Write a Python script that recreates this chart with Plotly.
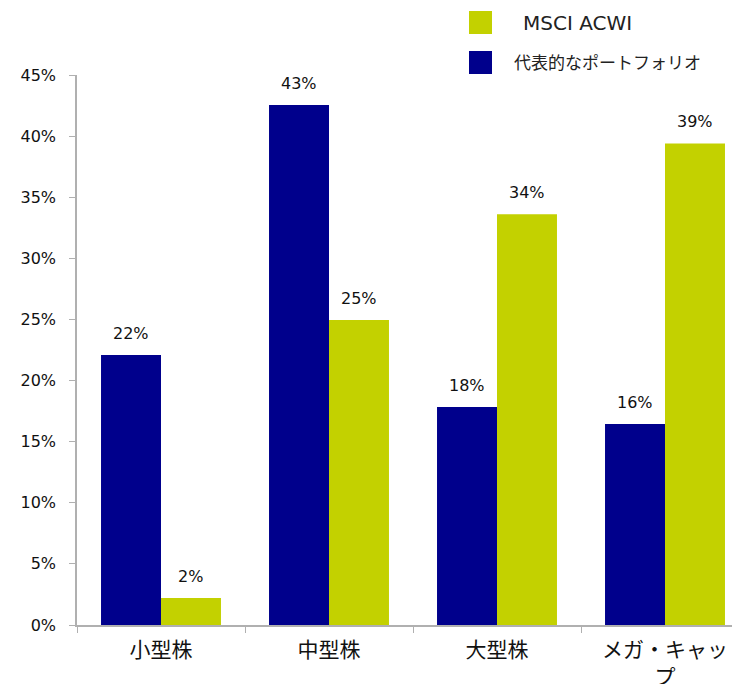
import plotly.graph_objects as go

categories = ["小型株", "中型株", "大型株", "メガ・キャッ<br>プ"]
portfolio = [22.1, 42.55, 17.84, 16.45]
acwi = [2.2, 24.96, 33.6, 39.4]
series_names = ["代表的なポートフォリオ", "MSCI ACWI"]
yticks = [0, 5, 10, 15, 20, 25, 30, 35, 40, 45]

NAVY = "#00008C"
GREEN = "#C3D100"
FONT = "DejaVu Sans, Noto Sans CJK JP, sans-serif"

OFF = 8  # page body margin
W, H = 740 - OFF, 684 - OFF
ML, MR, MT, MB = 77 - OFF, 0, 75 - OFF, 59
PW, PH = W - ML - MR, H - MT - MB

def px_x(x):
    return (x - OFF - ML) / PW

def px_y(y):
    return (H - MB - (y - OFF)) / PH

fig = go.Figure()
fig.add_trace(go.Bar(x=categories, y=portfolio, name=series_names[0],
                     marker=dict(color=NAVY, line=dict(width=0)), showlegend=False))
fig.add_trace(go.Bar(x=categories, y=acwi, name=series_names[1],
                     marker=dict(color=GREEN, line=dict(width=0)), showlegend=False))

# data labels
for i, c in enumerate(categories):
    for vals, off in ((portfolio, -0.178), (acwi, 0.178)):
        fig.add_annotation(x=i + off, y=vals[i], xref="x", yref="y",
                           text=f"{vals[i]:.0f}%", showarrow=False,
                           yanchor="bottom", yshift=10,
                           font=dict(family=FONT, size=16, color="#111"))

# manual legend
legend_items = [(series_names[1], GREEN, 11, 521, 20), (series_names[0], NAVY, 51, 512, 17)]
for name, col, ytop, xt, fs in legend_items:
    fig.add_shape(type="rect", xref="paper", yref="paper",
                  x0=px_x(469), x1=px_x(492), y0=px_y(ytop + 23), y1=px_y(ytop),
                  fillcolor=col, line=dict(width=0))
    fig.add_annotation(xref="paper", yref="paper", x=px_x(xt), y=px_y(ytop + 11.5),
                       text=name, showarrow=False, xanchor="left", yanchor="middle",
                       font=dict(family=FONT, size=fs, color="#222"))

fig.update_layout(
    width=W, height=H,
    margin=dict(l=ML, r=MR, t=MT, b=MB, pad=0, autoexpand=False),
    plot_bgcolor="white", paper_bgcolor="white",
    barmode="group", bargap=0.286, bargroupgap=0,
    font=dict(family=FONT, size=16, color="#111"),
)
fig.update_xaxes(type="category", range=[-0.5, -0.5 + PW / 168],
                 showline=True, linecolor="#B0B0B0", linewidth=1.5,
                 ticks="outside", tickson="boundaries", ticklen=6, tickcolor="#B0B0B0",
                 ticklabelstandoff=5, automargin=False,
                 tickfont=dict(family=FONT, size=21, color="#111"), showgrid=False)
fig.update_yaxes(range=[0, 45], tickvals=yticks, ticktext=[f"{v}%" for v in yticks],
                 showline=True, linecolor="#B0B0B0", linewidth=1.5,
                 ticks="outside", ticklen=6, tickcolor="#B0B0B0",
                 ticklabelstandoff=10, showgrid=False, zeroline=False, automargin=False,
                 tickfont=dict(family=FONT, size=16, color="#111"))

fig.write_html("out.html")
